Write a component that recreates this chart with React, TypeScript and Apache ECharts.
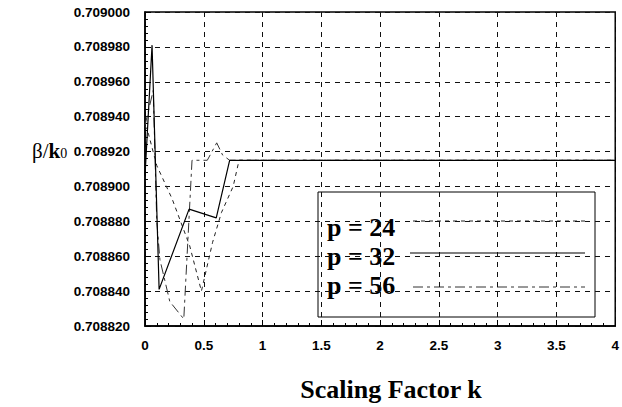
import React, { useEffect, useRef } from "react";
import * as echarts from "echarts";

// Scaling factor k and beta/k0 values
const p24K = [0, 0.03, 0.1, 0.23, 0.38, 0.48, 0.575, 0.65, 0.75, 0.8, 4];
const p24Beta = [0.708935, 0.70893, 0.708912, 0.708893, 0.708866, 0.70884, 0.708868, 0.708885, 0.7089, 0.708915, 0.708915];

const p32K = [0, 0.06, 0.12, 0.375, 0.606, 0.72, 4];
const p32Beta = [0.708906, 0.708981, 0.708841, 0.708887, 0.708882, 0.708915, 0.708915];

const p56K = [0, 0.07, 0.1, 0.127, 0.211, 0.33, 0.4, 0.53, 0.61, 0.66, 0.72, 4];
const p56Beta = [0.708935, 0.708955, 0.70888, 0.708858, 0.708834, 0.708824, 0.708915, 0.708915, 0.708925, 0.708918, 0.708915, 0.708915];

const seriesNames = ["p = 24", "p = 32", "p = 56"];

const yMin = 0.70882;
const yMax = 0.709;
const yStep = 0.00002;
const xMin = 0;
const xMax = 4;
const xStep = 0.5;

const xTitle = "Scaling Factor k";

const sansFont = "'Liberation Sans', Arial, sans-serif";
const serifFont = "'Liberation Serif', 'Times New Roman', serif";

const dash24 = [4, 4];
const dash56 = [10, 4, 3, 4];

export default function App() {
  const ref = useRef<HTMLDivElement>(null);

  useEffect(() => {
    if (!ref.current) return;
    const chart = echarts.init(ref.current, null, { renderer: "svg" });

    const axisCommon = {
      axisLine: { show: true, lineStyle: { color: "#000", width: 1.5 } },
      axisTick: { show: true, inside: true, length: 6, lineStyle: { color: "#000", width: 1 } },
      minorTick: { show: true, splitNumber: 5, length: 3, lineStyle: { color: "#000", width: 1 } },
      splitLine: { show: true, lineStyle: { color: "#111", width: 1, type: [5, 5] } },
    };

    const mk = (ks: number[], bs: number[]) => ks.map((k, i) => [k, bs[i]]);

    chart.setOption({
      animation: false,
      backgroundColor: "#fff",
      grid: {
        left: 145,
        right: 4,
        top: 12,
        bottom: 81,
        show: true,
        borderColor: "#000",
        borderWidth: 1.5,
        backgroundColor: "transparent",
      },
      xAxis: {
        type: "value",
        min: xMin,
        max: xMax,
        interval: xStep,
        ...axisCommon,
        axisLabel: {
          color: "#000",
          fontWeight: "bold",
          fontSize: 13.5,
          fontFamily: sansFont,
          margin: 12,
          formatter: (v: number) => String(v),
        },
      },
      yAxis: {
        type: "value",
        min: yMin,
        max: yMax,
        interval: yStep,
        ...axisCommon,
        axisLabel: {
          color: "#000",
          fontWeight: "bold",
          fontSize: 13.5,
          fontFamily: sansFont,
          margin: 15,
          formatter: (v: number) => v.toFixed(6),
        },
      },
      series: [
        {
          name: seriesNames[2],
          type: "line",
          symbol: "none",
          data: mk(p56K, p56Beta),
          lineStyle: { color: "#333", width: 1, type: dash56 },
          z: 2,
        },
        {
          name: seriesNames[0],
          type: "line",
          symbol: "none",
          data: mk(p24K, p24Beta),
          lineStyle: { color: "#222", width: 1, type: dash24 },
          z: 3,
        },
        {
          name: seriesNames[1],
          type: "line",
          symbol: "none",
          data: mk(p32K, p32Beta),
          lineStyle: { color: "#000", width: 1.2, type: "solid" },
          z: 4,
        },
      ],
      graphic: [
        {
          type: "text",
          left: 32,
          top: 140,
          style: {
            text: "{a|β/}{b|k}{c|0}",
            rich: {
              a: { fontFamily: serifFont, fontSize: 21, fill: "#000" },
              b: { fontFamily: serifFont, fontSize: 21, fontWeight: "bold", fill: "#000" },
              c: { fontFamily: serifFont, fontSize: 14, fill: "#000", padding: [6, 0, 0, 0] },
            },
          },
        },
        {
          type: "text",
          x: 391,
          y: 389,
          style: {
            text: xTitle,
            fontFamily: serifFont,
            fontSize: 26,
            fontWeight: "bold",
            fill: "#000",
            textAlign: "center",
            textVerticalAlign: "middle",
          },
        },
        {
          type: "group",
          z: 100,
          children: [
            {
              type: "rect",
              shape: { x: 318, y: 192, width: 277, height: 125 },
              style: { fill: "#fff", stroke: "#000", lineWidth: 1 },
            },
            {
              type: "text",
              x: 327,
              y: 227,
              style: { text: seriesNames[0], fontFamily: serifFont, fontSize: 26, fontWeight: "bold", fill: "#000", textVerticalAlign: "middle" },
            },
            {
              type: "text",
              x: 327,
              y: 256,
              style: { text: seriesNames[1], fontFamily: serifFont, fontSize: 26, fontWeight: "bold", fill: "#000", textVerticalAlign: "middle" },
            },
            {
              type: "text",
              x: 327,
              y: 285,
              style: { text: seriesNames[2], fontFamily: serifFont, fontSize: 26, fontWeight: "bold", fill: "#000", textVerticalAlign: "middle" },
            },
            {
              type: "line",
              shape: { x1: 413, y1: 221, x2: 585, y2: 221 },
              style: { stroke: "#222", lineWidth: 1, lineDash: dash24 },
            },
            {
              type: "line",
              shape: { x1: 410, y1: 253, x2: 585, y2: 253 },
              style: { stroke: "#000", lineWidth: 1.2 },
            },
            {
              type: "line",
              shape: { x1: 413, y1: 287, x2: 585, y2: 287 },
              style: { stroke: "#333", lineWidth: 1, lineDash: dash56 },
            },
          ],
        },
      ],
    });

    return () => chart.dispose();
  }, []);

  return (
    <div
      ref={ref}
      style={{ position: "absolute", left: 0, top: 0, width: 622, height: 407, background: "#fff" }}
    />
  );
}
